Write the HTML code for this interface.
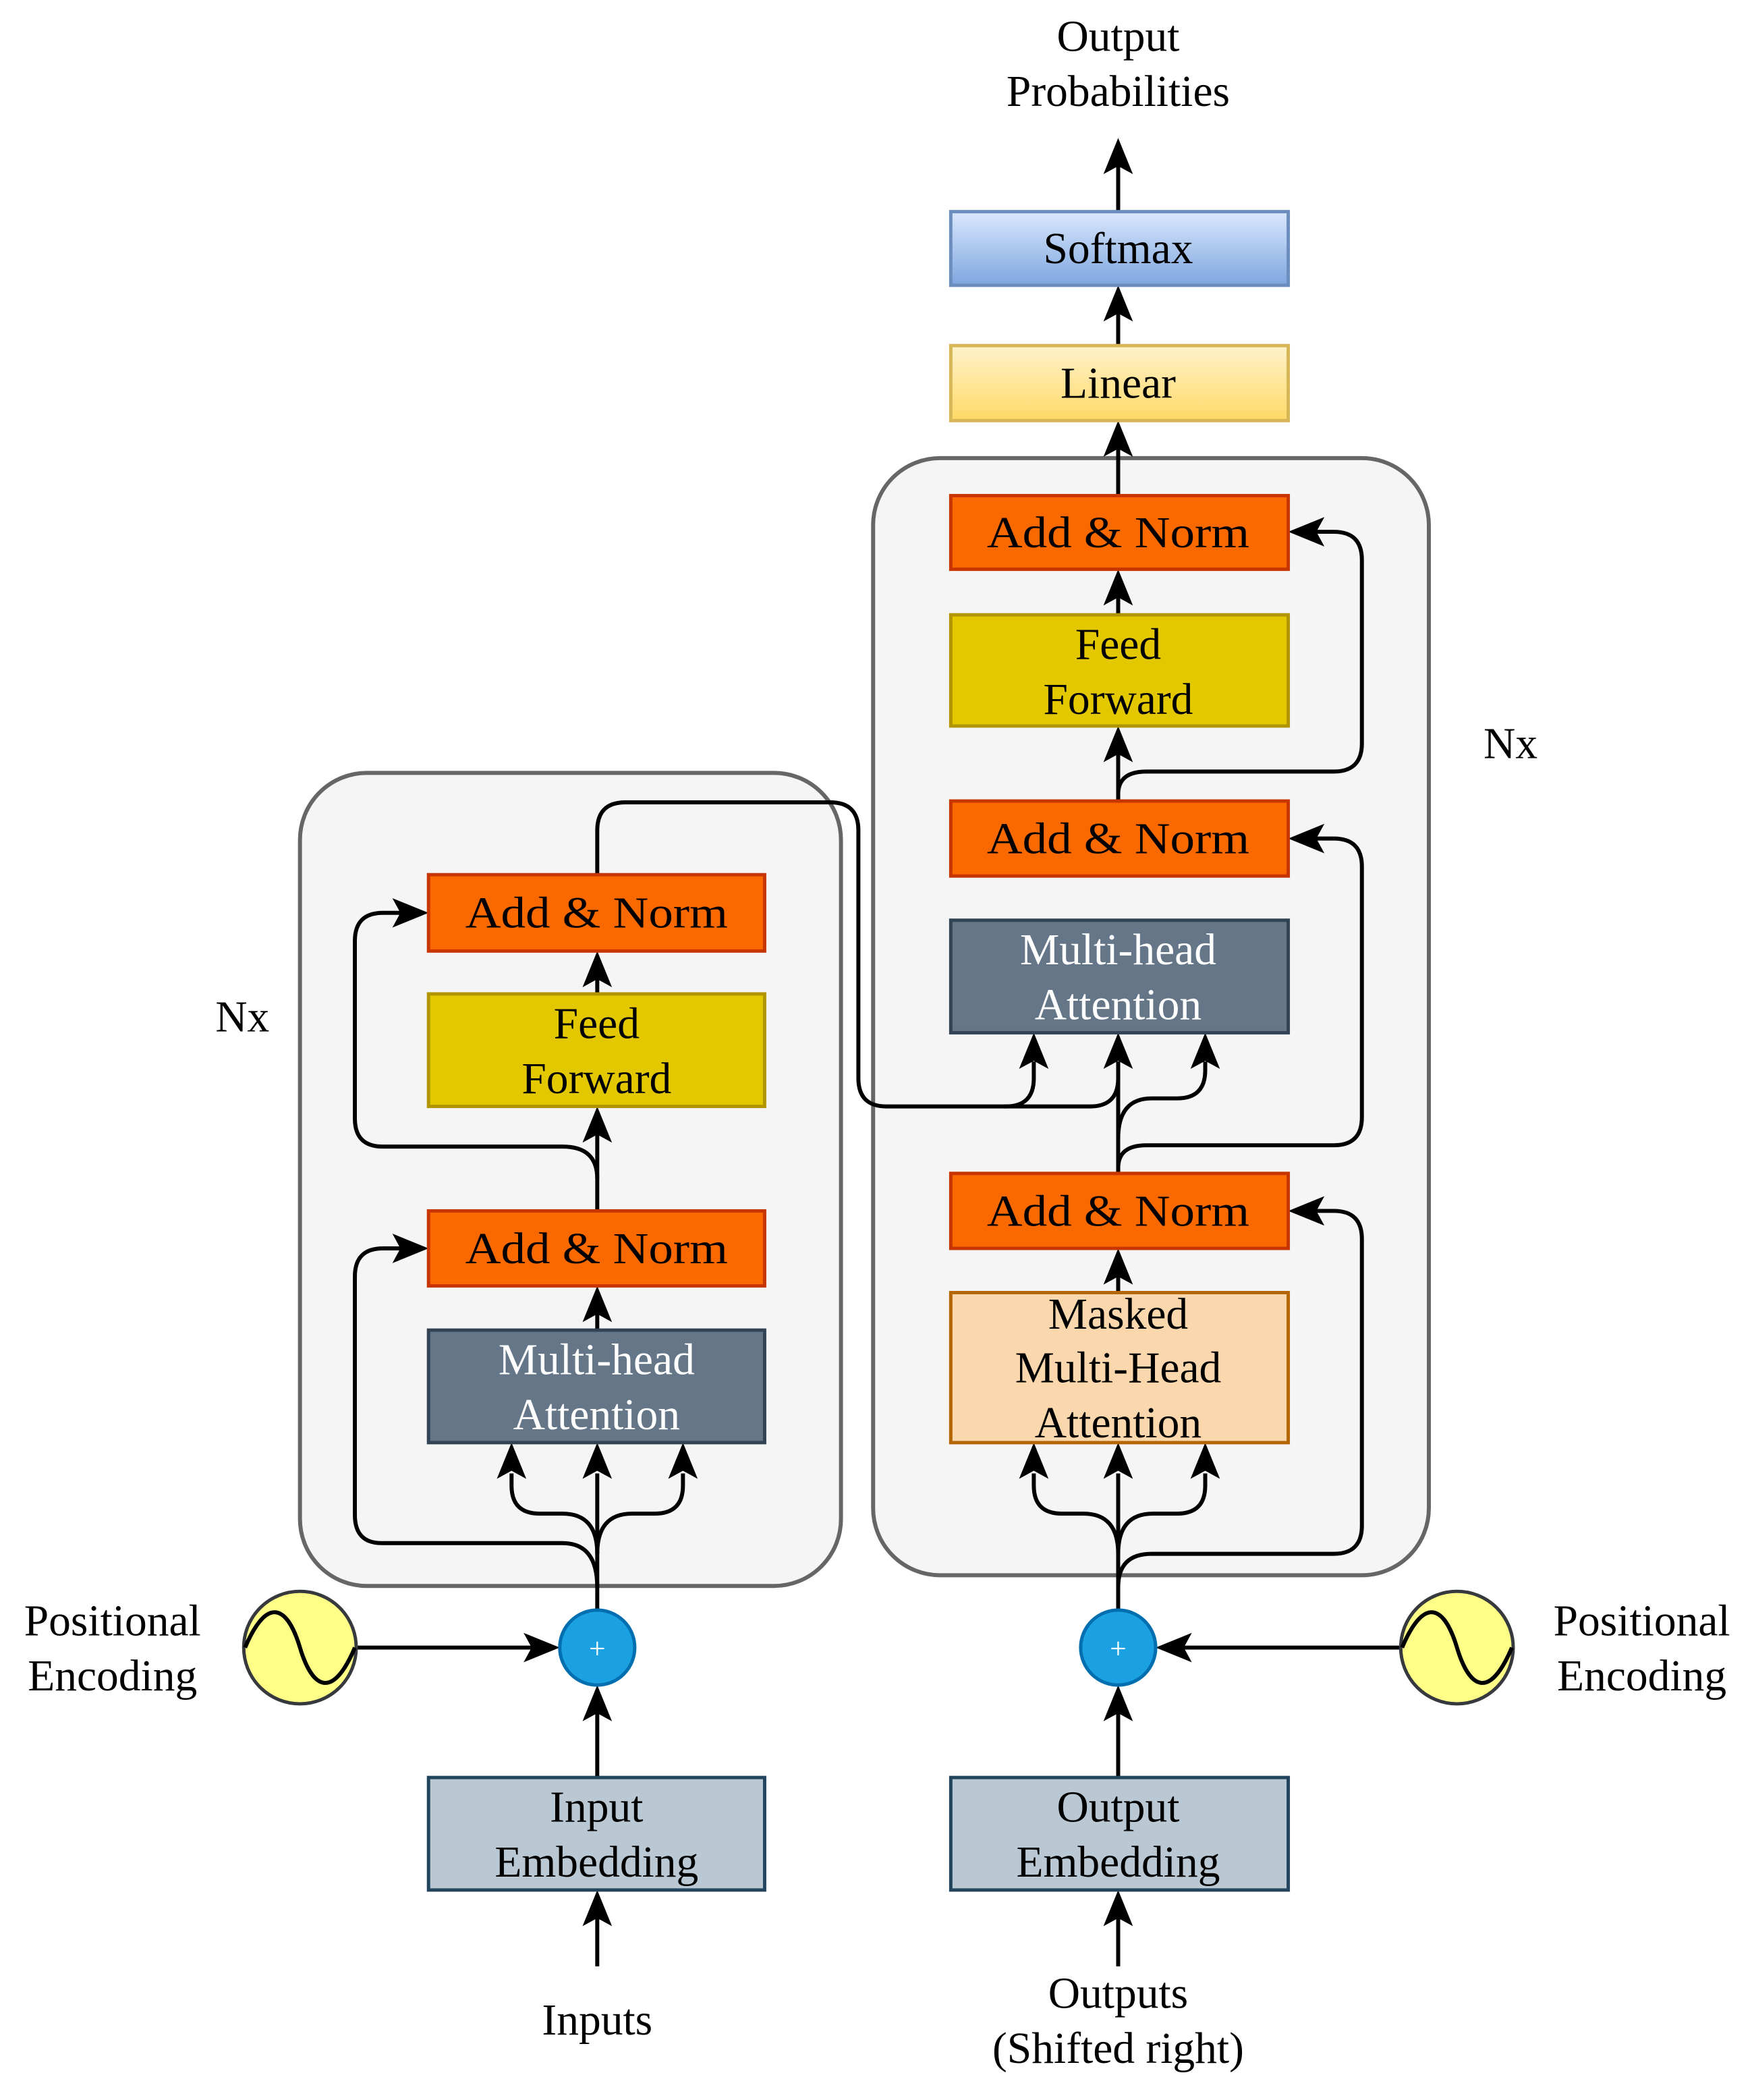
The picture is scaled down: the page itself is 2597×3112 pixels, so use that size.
<!DOCTYPE html>
<html><head><meta charset="utf-8"><style>html,body{margin:0;padding:0;background:#fff}svg{display:block}</style></head><body>
<svg width="2597" height="3112" viewBox="0 0 2597 3112" xmlns="http://www.w3.org/2000/svg" font-family="'Liberation Serif', serif" font-size="66" text-anchor="middle">
<defs>
<linearGradient id="gs" x1="0" y1="0" x2="0" y2="1"><stop offset="0" stop-color="#dae8fc"/><stop offset="1" stop-color="#7ea6e0"/></linearGradient>
<linearGradient id="gl" x1="0" y1="0" x2="0" y2="1"><stop offset="0" stop-color="#fff2cc"/><stop offset="1" stop-color="#ffd966"/></linearGradient>
</defs>
<g transform="scale(0.9925)">
<rect x="448" y="1154" width="808" height="1214" rx="100" fill="#f5f5f5" stroke="#666" stroke-width="6"/>
<rect x="1304" y="684" width="830" height="1668" rx="100" fill="#f5f5f5" stroke="#666" stroke-width="6"/>

<g fill="none" stroke="#000" stroke-width="6" stroke-linejoin="round">
<path d="M892 2404 V2200"/>
<path d="M892 2320 Q892 2260 840 2260 H806 Q764 2260 764 2218 V2200"/>
<path d="M892 2320 Q892 2260 944 2260 H978 Q1020 2260 1020 2218 V2200"/>
<path d="M892 2370 Q892 2304 840 2304 H570 Q530 2304 530 2262 V1906 Q530 1864 572 1864 H600"/>
<path d="M892 1986 V1960"/>
<path d="M892 1808 V1690"/>
<path d="M892 1760 Q892 1712 840 1712 H572 Q530 1712 530 1670 V1405 Q530 1363 572 1363 H600"/>
<path d="M892 1484 V1460"/>
<path d="M892 1306 V1240 Q892 1198 934 1198 H1240 Q1282 1198 1282 1240 V1610 Q1282 1652 1324 1652 H1502 Q1544 1652 1544 1610 V1585"/>
<path d="M1500 1652 H1628 Q1670 1652 1670 1610 V1585"/>
<path d="M1670 1752 V1585"/>
<path d="M1670 1700 Q1670 1640 1720 1640 H1758 Q1800 1640 1800 1598 V1585"/>
<path d="M1670 1752 V1744 Q1670 1710 1712 1710 H1992 Q2034 1710 2034 1668 V1294 Q2034 1252 1992 1252 H1964"/>
<path d="M1670 1930 V1905"/>
<path d="M1670 2404 V2200"/>
<path d="M1670 2320 Q1670 2260 1618 2260 H1586 Q1544 2260 1544 2218 V2200"/>
<path d="M1670 2320 Q1670 2260 1722 2260 H1758 Q1800 2260 1800 2218 V2200"/>
<path d="M1670 2370 Q1670 2320 1720 2320 H1992 Q2034 2320 2034 2278 V1850 Q2034 1808 1992 1808 H1964"/>
<path d="M1670 1196 V1125"/>
<path d="M1670 1196 V1186 Q1670 1152 1712 1152 H1992 Q2034 1152 2034 1110 V836 Q2034 794 1992 794 H1964"/>
<path d="M1670 918 V890"/>
<path d="M1670 740 V668"/>
<path d="M1670 516 V466"/>
<path d="M1670 316 V246"/>
<path d="M892 2654 V2556"/>
<path d="M892 2936 V2862"/>
<path d="M1670 2654 V2556"/>
<path d="M1670 2936 V2862"/>
<path d="M532 2460 H800"/>
<path d="M2092 2460 H1764"/>
</g>
<g fill="#000">
<polygon points="892,2154 870,2208 892,2196 914,2208"/>
<polygon points="764,2154 742,2208 764,2196 786,2208"/>
<polygon points="1020,2154 998,2208 1020,2196 1042,2208"/>
<polygon points="640,1864 586,1842 598,1864 586,1886"/>
<polygon points="892,1920 870,1974 892,1962 914,1974"/>
<polygon points="892,1652 870,1706 892,1694 914,1706"/>
<polygon points="640,1363 586,1341 598,1363 586,1385"/>
<polygon points="892,1420 870,1474 892,1462 914,1474"/>
<polygon points="1544,1542 1522,1596 1544,1584 1566,1596"/>
<polygon points="1670,1542 1648,1596 1670,1584 1692,1596"/>
<polygon points="1800,1542 1778,1596 1800,1584 1822,1596"/>
<polygon points="1924,1252 1978,1230 1966,1252 1978,1274"/>
<polygon points="1670,1864 1648,1918 1670,1906 1692,1918"/>
<polygon points="1670,2154 1648,2208 1670,2196 1692,2208"/>
<polygon points="1544,2154 1522,2208 1544,2196 1566,2208"/>
<polygon points="1800,2154 1778,2208 1800,2196 1822,2208"/>
<polygon points="1924,1808 1978,1786 1966,1808 1978,1830"/>
<polygon points="1670,1084 1648,1138 1670,1126 1692,1138"/>
<polygon points="1924,794 1978,772 1966,794 1978,816"/>
<polygon points="1670,850 1648,904 1670,892 1692,904"/>
<polygon points="1670,628 1648,682 1670,670 1692,682"/>
<polygon points="1670,426 1648,480 1670,468 1692,480"/>
<polygon points="1670,206 1648,260 1670,248 1692,260"/>
<polygon points="892,2516 870,2570 892,2558 914,2570"/>
<polygon points="892,2822 870,2876 892,2864 914,2876"/>
<polygon points="1670,2516 1648,2570 1670,2558 1692,2570"/>
<polygon points="1670,2822 1648,2876 1670,2864 1692,2876"/>
<polygon points="836,2460 782,2438 794,2460 782,2482"/>
<polygon points="1726,2460 1780,2438 1768,2460 1780,2482"/>
</g>

<g stroke-width="5">
<rect x="640" y="1306" width="502" height="114" fill="#fa6800" stroke="#c73500"/>
<rect x="640" y="1484" width="502" height="168" fill="#e3c800" stroke="#b09500"/>
<rect x="640" y="1808" width="502" height="112" fill="#fa6800" stroke="#c73500"/>
<rect x="640" y="1986" width="502" height="168" fill="#647687" stroke="#314354"/>
<rect x="640" y="2654" width="502" height="168" fill="#bac8d3" stroke="#23445d"/>
<rect x="1420" y="316" width="504" height="110" fill="url(#gs)" stroke="#6c8ebf"/>
<rect x="1420" y="516" width="504" height="112" fill="url(#gl)" stroke="#d6b656"/>
<rect x="1420" y="740" width="504" height="110" fill="#fa6800" stroke="#c73500"/>
<rect x="1420" y="918" width="504" height="166" fill="#e3c800" stroke="#b09500"/>
<rect x="1420" y="1196" width="504" height="112" fill="#fa6800" stroke="#c73500"/>
<rect x="1420" y="1374" width="504" height="168" fill="#647687" stroke="#314354"/>
<rect x="1420" y="1752" width="504" height="112" fill="#fa6800" stroke="#c73500"/>
<rect x="1420" y="1930" width="504" height="224" fill="#fad7ac" stroke="#b46504"/>
<rect x="1420" y="2654" width="504" height="168" fill="#bac8d3" stroke="#23445d"/>
</g>
<circle cx="892" cy="2460" r="56" fill="#1ba1e2" stroke="#006eaf" stroke-width="5"/>
<circle cx="1670" cy="2460" r="56" fill="#1ba1e2" stroke="#006eaf" stroke-width="5"/>
<text x="892" y="2476" fill="#fff" font-size="44">+</text>
<text x="1670" y="2476" fill="#fff" font-size="44">+</text>
<circle cx="448" cy="2460" r="84" fill="#ffff88" stroke="#36393d" stroke-width="5"/>
<circle cx="2176" cy="2460" r="84" fill="#ffff88" stroke="#36393d" stroke-width="5"/>
<path d="M366 2460 C400 2380 430 2400 448 2460 S496 2540 530 2460" fill="none" stroke="#000" stroke-width="6"/>
<path d="M2094 2460 C2128 2380 2158 2400 2176 2460 S2224 2540 2258 2460" fill="none" stroke="#000" stroke-width="6"/>

<g fill="#000">
<text x="891" y="1385" textLength="392" lengthAdjust="spacingAndGlyphs">Add &amp; Norm</text>
<text x="891" y="1550">Feed</text>
<text x="891" y="1632">Forward</text>
<text x="891" y="1886" textLength="392" lengthAdjust="spacingAndGlyphs">Add &amp; Norm</text>
<text x="891" y="2720">Input</text>
<text x="891" y="2802">Embedding</text>
<text x="1670" y="393">Softmax</text>
<text x="1670" y="594">Linear</text>
<text x="1670" y="817" textLength="392" lengthAdjust="spacingAndGlyphs">Add &amp; Norm</text>
<text x="1670" y="984">Feed</text>
<text x="1670" y="1066">Forward</text>
<text x="1670" y="1274" textLength="392" lengthAdjust="spacingAndGlyphs">Add &amp; Norm</text>
<text x="1670" y="1830" textLength="392" lengthAdjust="spacingAndGlyphs">Add &amp; Norm</text>
<text x="1670" y="1984">Masked</text>
<text x="1670" y="2064">Multi-Head</text>
<text x="1670" y="2146">Attention</text>
<text x="1670" y="2720">Output</text>
<text x="1670" y="2802">Embedding</text>
<text x="1670" y="76">Output</text>
<text x="1670" y="158">Probabilities</text>
<text x="892" y="3038">Inputs</text>
<text x="1670" y="2998">Outputs</text>
<text x="1670" y="3080">(Shifted right)</text>
<text x="168" y="2442">Positional</text>
<text x="168" y="2524">Encoding</text>
<text x="2452" y="2442">Positional</text>
<text x="2452" y="2524">Encoding</text>
<text x="362" y="1540">Nx</text>
<text x="2256" y="1132">Nx</text>
</g>
<g fill="#fff">
<text x="891" y="2052">Multi-head</text>
<text x="891" y="2134">Attention</text>
<text x="1670" y="1440">Multi-head</text>
<text x="1670" y="1522">Attention</text>
</g>
</g>
</svg>
</body></html>
